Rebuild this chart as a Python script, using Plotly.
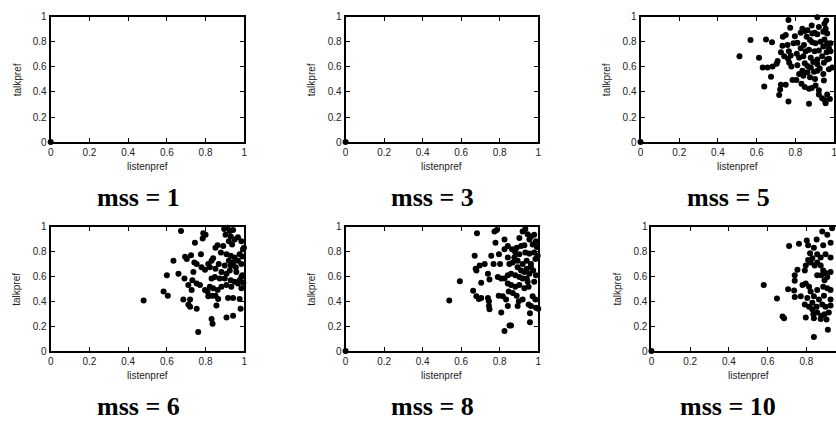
import plotly.graph_objects as go

# ---- data -------------------------------------------------------------
mss_levels = [1, 3, 5, 6, 8, 10]
tick_vals = [0, 0.2, 0.4, 0.6, 0.8, 1]
tick_text = ["0", "0.2", "0.4", "0.6", "0.8", "1"]

listen_mss1 = [0.0]
talk_mss1 = [0.0]

listen_mss3 = [0.0]
talk_mss3 = [0.0]

listen_mss5 = [0.0, 0.764, 0.913, 0.773, 0.836, 0.848, 0.884, 0.887, 0.899, 0.913, 0.921,
               0.950, 0.959, 0.956, 0.944, 0.964, 0.827, 0.862, 0.735, 0.750, 0.797,
               0.810, 0.790, 0.858, 0.875, 0.887, 0.904, 0.930, 0.950, 0.964, 0.981,
               0.944, 0.973, 0.568, 0.648, 0.679, 0.733, 0.759, 0.844, 0.827, 0.725,
               0.766, 0.776, 0.807, 0.819, 0.853, 0.870, 0.899, 0.921, 0.961, 0.981,
               0.511, 0.612, 0.742, 0.762, 0.841, 0.879, 0.913, 0.938, 0.973, 0.708,
               0.703, 0.682, 0.656, 0.631, 0.768, 0.779, 0.810, 0.848, 0.862, 0.879,
               0.892, 0.913, 0.926, 0.947, 0.964, 0.836, 0.862, 0.896, 0.913, 0.973,
               0.944, 0.841, 0.819, 0.674, 0.785, 0.805, 0.875, 0.901, 0.947, 0.831,
               0.848, 0.870, 0.884, 0.904, 0.921, 0.725, 0.750, 0.721, 0.639, 0.716,
               0.764, 0.870, 0.921, 0.938, 0.950, 0.964, 0.956, 0.978, 0.990]
talk_mss5 = [0.0, 0.974, 0.995, 0.912, 0.904, 0.886, 0.930, 0.866, 0.871, 0.860, 0.917,
             0.943, 0.969, 0.904, 0.879, 0.866, 0.871, 0.891, 0.840, 0.853, 0.845,
             0.793, 0.788, 0.840, 0.814, 0.796, 0.788, 0.801, 0.819, 0.788, 0.788,
             0.762, 0.749, 0.814, 0.819, 0.796, 0.768, 0.775, 0.775, 0.749, 0.716,
             0.724, 0.690, 0.705, 0.672, 0.724, 0.736, 0.724, 0.731, 0.716, 0.724,
             0.685, 0.672, 0.685, 0.664, 0.685, 0.672, 0.659, 0.685, 0.664, 0.646,
             0.625, 0.602, 0.594, 0.594, 0.633, 0.602, 0.612, 0.628, 0.607, 0.594,
             0.638, 0.620, 0.587, 0.633, 0.659, 0.568, 0.556, 0.561, 0.568, 0.581,
             0.543, 0.530, 0.543, 0.522, 0.496, 0.496, 0.517, 0.504, 0.491, 0.465,
             0.439, 0.426, 0.432, 0.452, 0.413, 0.457, 0.457, 0.419, 0.444, 0.375,
             0.323, 0.305, 0.380, 0.349, 0.336, 0.380, 0.310, 0.344, 0.594]

listen_mss6 = [0.673, 0.788, 0.800, 0.896, 0.913, 0.925, 0.942, 0.903, 0.930, 0.950,
               0.967, 0.985, 0.920, 0.937, 0.891, 0.862, 0.851, 0.745, 0.785, 0.879,
               0.908, 0.930, 0.950, 0.976, 0.993, 0.985, 0.967, 0.920, 0.942, 0.956,
               0.930, 0.899, 0.634, 0.694, 0.703, 0.725, 0.776, 0.742, 0.754, 0.737,
               0.779, 0.814, 0.831, 0.839, 0.822, 0.851, 0.868, 0.797, 0.882, 0.908,
               0.925, 0.959, 0.985, 0.976, 0.930, 0.950, 0.899, 0.873, 0.848, 0.831,
               0.600, 0.660, 0.691, 0.732, 0.754, 0.728, 0.711, 0.771, 0.797, 0.810,
               0.822, 0.839, 0.862, 0.882, 0.908, 0.933, 0.967, 0.985, 0.834, 0.851,
               0.865, 0.916, 0.942, 0.976, 0.814, 0.583, 0.605, 0.480, 0.685, 0.720,
               0.711, 0.720, 0.754, 0.856, 0.981, 0.908, 0.942, 0.831, 0.836, 0.762,
               0.998, 0.990, 0.995, 0.990]
talk_mss6 = [0.966, 0.948, 0.935, 0.982, 0.992, 0.966, 0.974, 0.935, 0.922, 0.896,
             0.914, 0.883, 0.883, 0.857, 0.844, 0.851, 0.831, 0.870, 0.904, 0.792,
             0.779, 0.766, 0.753, 0.779, 0.818, 0.700, 0.727, 0.727, 0.713, 0.674,
             0.687, 0.687, 0.727, 0.758, 0.740, 0.771, 0.779, 0.713, 0.700, 0.635,
             0.674, 0.700, 0.727, 0.747, 0.674, 0.661, 0.700, 0.654, 0.635, 0.622,
             0.648, 0.635, 0.596, 0.570, 0.570, 0.557, 0.583, 0.583, 0.596, 0.583,
             0.609, 0.622, 0.583, 0.570, 0.544, 0.492, 0.531, 0.531, 0.492, 0.479,
             0.518, 0.505, 0.492, 0.518, 0.531, 0.518, 0.544, 0.505, 0.445, 0.445,
             0.419, 0.427, 0.427, 0.419, 0.440, 0.479, 0.445, 0.406, 0.414, 0.414,
             0.375, 0.357, 0.341, 0.367, 0.341, 0.271, 0.284, 0.258, 0.219, 0.154,
             0.830, 0.760, 0.550, 0.610]

listen_mss8 = [0.0, 0.682, 0.773, 0.785, 0.919, 0.933, 0.945, 0.962, 0.954, 0.979, 0.988,
               0.971, 0.902, 0.825, 0.778, 0.842, 0.825, 0.864, 0.888, 0.911, 0.928,
               0.881, 0.902, 0.876, 0.933, 0.954, 0.979, 0.993, 0.670, 0.756, 0.796,
               0.696, 0.675, 0.679, 0.722, 0.768, 0.802, 0.842, 0.850, 0.868, 0.893,
               0.919, 0.940, 0.962, 0.985, 0.997, 0.893, 0.940, 0.962, 0.911, 0.928,
               0.954, 0.974, 0.988, 0.739, 0.790, 0.808, 0.825, 0.842, 0.859, 0.881,
               0.902, 0.919, 0.940, 0.945, 0.979, 0.593, 0.704, 0.747, 0.842, 0.859,
               0.881, 0.902, 0.928, 0.950, 0.662, 0.679, 0.692, 0.704, 0.739, 0.744,
               0.795, 0.816, 0.833, 0.847, 0.868, 0.888, 0.899, 0.919, 0.971, 0.985,
               0.538, 0.744, 0.747, 0.808, 0.842, 0.893, 0.950, 0.962, 0.988, 1.000,
               0.851, 0.859, 0.825, 0.957, 0.957]
talk_mss8 = [0.0, 0.948, 0.961, 0.974, 0.961, 0.982, 0.940, 0.922, 0.896, 0.935, 0.883,
             0.857, 0.909, 0.896, 0.870, 0.844, 0.818, 0.818, 0.831, 0.844, 0.851,
             0.792, 0.779, 0.753, 0.792, 0.784, 0.792, 0.836, 0.766, 0.766, 0.779,
             0.687, 0.661, 0.648, 0.700, 0.700, 0.700, 0.753, 0.700, 0.713, 0.727,
             0.700, 0.727, 0.700, 0.740, 0.766, 0.674, 0.661, 0.674, 0.648, 0.635,
             0.622, 0.648, 0.609, 0.622, 0.596, 0.583, 0.583, 0.609, 0.622, 0.609,
             0.596, 0.583, 0.583, 0.557, 0.557, 0.562, 0.549, 0.575, 0.544, 0.531,
             0.518, 0.531, 0.505, 0.518, 0.484, 0.440, 0.419, 0.427, 0.427, 0.401,
             0.445, 0.440, 0.414, 0.479, 0.466, 0.445, 0.401, 0.414, 0.440, 0.414,
             0.406, 0.362, 0.336, 0.310, 0.362, 0.362, 0.375, 0.362, 0.349, 0.341,
             0.206, 0.206, 0.161, 0.305, 0.232]

listen_mss10 = [0.0, 0.882, 0.908, 0.933, 0.853, 0.802, 0.809, 0.762, 0.711, 0.887, 0.925,
                0.839, 0.856, 0.819, 0.831, 0.809, 0.822, 0.856, 0.874, 0.899, 0.925,
                0.797, 0.843, 0.874, 0.887, 0.899, 0.925, 0.792, 0.754, 0.740, 0.740,
                0.894, 0.877, 0.908, 0.856, 0.580, 0.706, 0.737, 0.780, 0.797, 0.814,
                0.822, 0.856, 0.887, 0.908, 0.925, 0.771, 0.740, 0.805, 0.839, 0.865,
                0.891, 0.925, 0.648, 0.792, 0.814, 0.831, 0.853, 0.882, 0.899, 0.925,
                0.831, 0.836, 0.856, 0.877, 0.894, 0.916, 0.797, 0.839, 0.874, 0.904,
                0.677, 0.685, 0.911, 0.839]
talk_mss10 = [0.0, 0.961, 0.935, 0.987, 0.896, 0.888, 0.851, 0.862, 0.844, 0.851, 0.870,
              0.831, 0.779, 0.786, 0.747, 0.732, 0.713, 0.713, 0.753, 0.779, 0.753,
              0.687, 0.687, 0.687, 0.648, 0.628, 0.635, 0.648, 0.654, 0.609, 0.565,
              0.570, 0.609, 0.596, 0.609, 0.531, 0.497, 0.487, 0.531, 0.544, 0.518,
              0.479, 0.492, 0.518, 0.505, 0.492, 0.440, 0.435, 0.427, 0.440, 0.414,
              0.445, 0.414, 0.422, 0.375, 0.357, 0.388, 0.357, 0.375, 0.357, 0.367,
              0.336, 0.297, 0.310, 0.284, 0.297, 0.310, 0.271, 0.263, 0.258, 0.253,
              0.279, 0.263, 0.172, 0.114]

listen_series = [listen_mss1, listen_mss3, listen_mss5, listen_mss6, listen_mss8, listen_mss10]
talk_series = [talk_mss1, talk_mss3, talk_mss5, talk_mss6, talk_mss8, talk_mss10]

# ---- layout (pixel boxes of each panel: left, right, top, bottom) -----
W, H = 860, 430
panel_boxes = [
    (48, 243, 11, 140), (345, 539, 11, 140), (642, 837, 11, 140),
    (48, 243, 227, 355), (345, 539, 227, 355), (653, 848, 227, 355),
]
title_offsets = [-9, -9, -9, -9, -9, -20]
row_title_y = {11: 197, 227: 412}

tick_font = dict(family="Liberation Sans, Arial, sans-serif", size=10, color="#222")
label_font = dict(family="Liberation Sans, Arial, sans-serif", size=10, color="#222")
title_font = dict(family="Liberation Serif, Times New Roman, serif", size=26, color="black")

fig = go.Figure()
annotations = []

for i, (mss, xs, ys, box) in enumerate(zip(mss_levels, listen_series, talk_series, panel_boxes)):
    left, right, top, bottom = box
    n = i + 1
    xa = "x" if n == 1 else f"x{n}"
    ya = "y" if n == 1 else f"y{n}"
    fig.add_trace(go.Scatter(
        x=xs, y=ys, mode="markers", xaxis=xa, yaxis=ya,
        marker=dict(size=6, color="black", line=dict(width=0)),
        cliponaxis=False, showlegend=False, hoverinfo="skip",
    ))
    axis_common = dict(
        range=[0, 1], tickvals=tick_vals, ticktext=tick_text,
        showline=True, linecolor="black", linewidth=2, mirror="ticks",
        ticks="inside", ticklen=4, tickwidth=1, tickcolor="black",
        showgrid=False, zeroline=False, tickfont=tick_font, fixedrange=True,
    )
    fig.layout[f"xaxis{'' if n == 1 else n}"] = dict(
        axis_common, domain=[left / W, right / W], anchor=ya,
    )
    fig.layout[f"yaxis{'' if n == 1 else n}"] = dict(
        axis_common, domain=[1 - bottom / H, 1 - top / H], anchor=xa,
    )
    cx = (left + right) / 2
    cy = (top + bottom) / 2
    annotations.append(dict(
        text="listenpref", x=cx / W, y=1 - (bottom + 25) / H, xref="paper", yref="paper",
        showarrow=False, font=label_font, xanchor="center", yanchor="middle",
    ))
    annotations.append(dict(
        text="talkpref", x=(left - 34) / W, y=1 - cy / H, xref="paper", yref="paper",
        showarrow=False, font=label_font, textangle=-90, xanchor="center", yanchor="middle",
    ))
    annotations.append(dict(
        text=f"<b>mss = {mss}</b>", x=(cx + title_offsets[i]) / W, y=1 - row_title_y[top] / H,
        xref="paper", yref="paper", showarrow=False, font=title_font,
        xanchor="center", yanchor="middle",
    ))

fig.update_layout(
    width=W, height=H, margin=dict(l=0, r=0, t=0, b=0),
    paper_bgcolor="white", plot_bgcolor="white",
    annotations=annotations,
)

fig.write_html(
    "out.html",
    config={"displayModeBar": False, "staticPlot": True},
    post_script=(
        "document.body.style.margin='0';"
        "document.body.style.overflow='hidden';"
        "document.documentElement.style.overflow='hidden';"
    ),
)
